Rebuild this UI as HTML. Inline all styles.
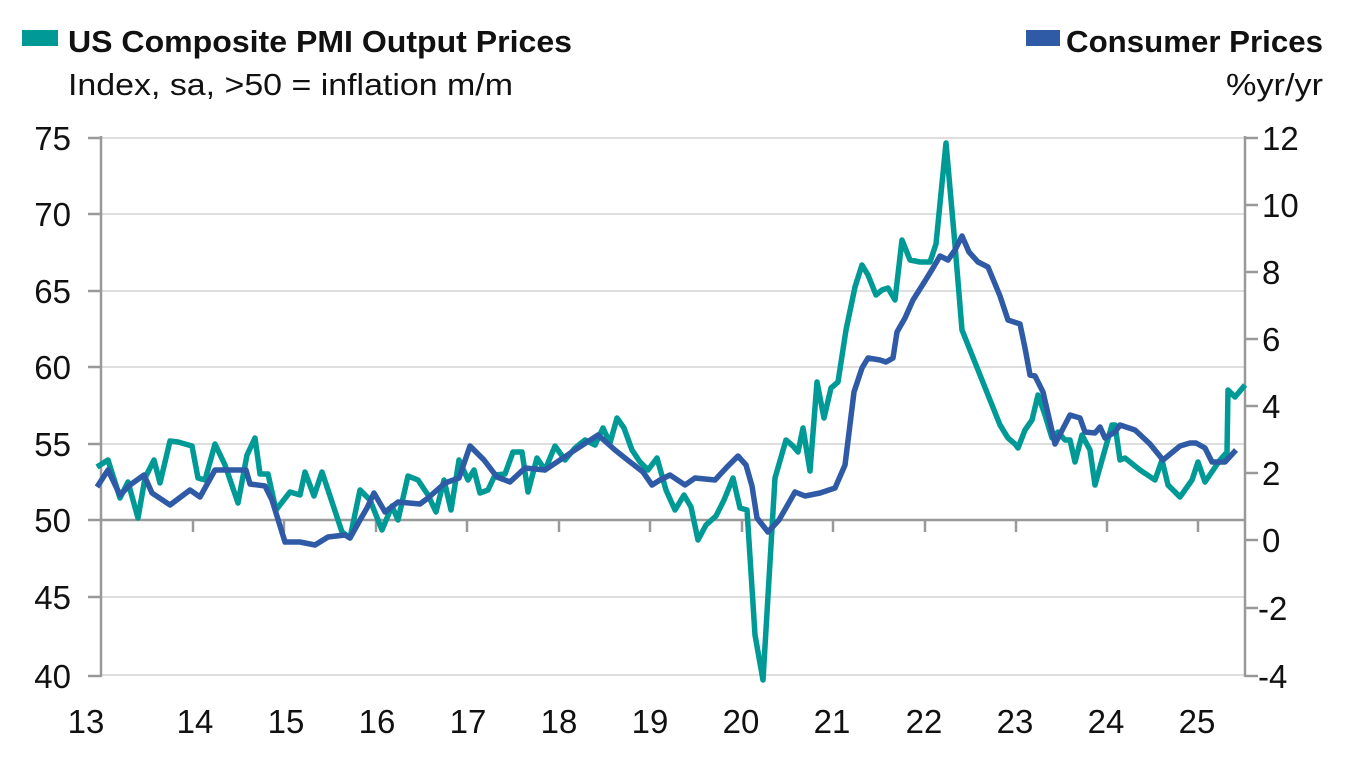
<!DOCTYPE html>
<html><head><meta charset="utf-8"><style>
html,body{margin:0;padding:0;background:#fff}
svg{display:block}
text{font-family:"Liberation Sans",sans-serif;fill:#111}
</style></head><body>
<svg width="1356" height="768" viewBox="0 0 1356 768">
<g stroke="#d4d4d4" stroke-width="1.5">
<line x1="101" y1="138" x2="1245" y2="138"/><line x1="101" y1="214" x2="1245" y2="214"/>
<line x1="101" y1="291" x2="1245" y2="291"/><line x1="101" y1="367" x2="1245" y2="367"/>
<line x1="101" y1="444" x2="1245" y2="444"/><line x1="101" y1="597" x2="1245" y2="597"/>
<line x1="101" y1="675" x2="1245" y2="675"/>
</g>
<g stroke="#999" stroke-width="2.5" fill="none">
<line x1="101" y1="136" x2="101" y2="677"/><line x1="88" y1="138" x2="101" y2="138"/><line x1="88" y1="214" x2="101" y2="214"/><line x1="88" y1="291" x2="101" y2="291"/><line x1="88" y1="367" x2="101" y2="367"/><line x1="88" y1="444" x2="101" y2="444"/><line x1="88" y1="520" x2="101" y2="520"/><line x1="88" y1="597" x2="101" y2="597"/><line x1="88" y1="676" x2="101" y2="676"/>
<line x1="1245" y1="136" x2="1245" y2="677"/>
<line x1="1245" y1="138" x2="1258" y2="138"/><line x1="1245" y1="205" x2="1258" y2="205"/><line x1="1245" y1="272" x2="1258" y2="272"/><line x1="1245" y1="339" x2="1258" y2="339"/><line x1="1245" y1="406" x2="1258" y2="406"/><line x1="1245" y1="473" x2="1258" y2="473"/><line x1="1245" y1="540" x2="1258" y2="540"/><line x1="1245" y1="608" x2="1258" y2="608"/><line x1="1245" y1="676" x2="1258" y2="676"/>
<line x1="101" y1="520" x2="1245" y2="520"/>
<line x1="193" y1="520" x2="193" y2="532"/><line x1="284" y1="520" x2="284" y2="532"/><line x1="376" y1="520" x2="376" y2="532"/><line x1="467" y1="520" x2="467" y2="532"/><line x1="559" y1="520" x2="559" y2="532"/><line x1="650" y1="520" x2="650" y2="532"/><line x1="742" y1="520" x2="742" y2="532"/><line x1="833" y1="520" x2="833" y2="532"/><line x1="925" y1="520" x2="925" y2="532"/><line x1="1016" y1="520" x2="1016" y2="532"/><line x1="1107" y1="520" x2="1107" y2="532"/><line x1="1198" y1="520" x2="1198" y2="532"/>
</g>
<polyline fill="none" stroke="#009a96" stroke-width="5.5" stroke-linejoin="round" points="97,467 108,460 120,498 128,482 138,518 145,478 154,460 160,483 170,441 178,442 192,446 198,478 205,480 215,444 225,465 238,503 247,455 255,438 260,474 268,474 276,510 290,492 300,495 305,472 314,496 322,472 333,505 342,532 350,538 360,490 370,500 382,530 392,506 398,520 408,476 418,480 428,495 436,512 444,480 451,510 459,460 468,480 474,470 480,493 488,490 495,475 505,474 513,452 522,452 528,492 537,458 545,470 555,446 565,460 575,448 585,440 595,445 603,428 610,443 617,418 624,428 632,450 640,462 648,470 657,458 666,490 675,510 684,495 691,507 698,540 706,525 716,516 724,500 733,478 740,508 747,510 755,635 763,680 775,478 786,440 793,446 798,452 803,428 810,471 817,382 824,418 831,388 838,382 846,330 855,287 862,265 868,275 876,295 882,290 888,288 895,300 902,240 910,260 920,262 930,262 936,244 946,143 955,245 962,330 970,350 980,375 990,400 1000,425 1008,438 1015,444 1018,448 1025,430 1032,420 1038,395 1045,415 1052,438 1058,432 1065,440 1070,440 1075,462 1082,435 1090,450 1095,485 1102,460 1112,425 1115,425 1120,460 1125,458 1140,470 1155,480 1162,460 1168,485 1180,497 1192,480 1198,462 1205,482 1220,460 1227,452 1228,390 1235,397 1245,385"/>
<polyline fill="none" stroke="#2e5aa6" stroke-width="5.5" stroke-linejoin="round" points="97,487 108,470 120,495 130,485 144,475 152,493 170,505 190,490 200,497 215,470 235,470 246,470 250,484 265,486 272,500 285,542 300,542 315,545 328,537 345,535 350,538 360,520 367,508 374,493 385,512 398,502 420,504 428,498 445,483 459,478 470,446 484,460 497,477 510,482 525,468 545,470 560,460 575,450 598,435 615,450 625,458 643,472 652,485 660,480 670,475 685,485 695,478 715,480 727,467 738,456 746,465 752,486 757,518 768,532 779,520 795,492 805,496 820,493 835,488 845,465 854,392 862,368 868,358 880,360 886,362 893,358 897,332 905,318 913,300 925,281 933,268 940,256 948,260 955,250 962,236 969,252 978,262 988,267 1000,296 1008,320 1020,324 1025,348 1030,375 1035,376 1043,392 1055,444 1070,415 1080,418 1085,432 1095,433 1100,427 1105,438 1115,432 1120,425 1135,430 1150,444 1163,460 1180,446 1190,443 1196,443 1205,448 1212,462 1225,462 1236,450"/>
<g font-size="33" text-anchor="end">
<text x="71" y="150">75</text><text x="71" y="226">70</text><text x="71" y="303">65</text><text x="71" y="379">60</text><text x="71" y="456">55</text><text x="71" y="532">50</text><text x="71" y="609">45</text><text x="71" y="688">40</text>
</g>
<g font-size="33">
<text x="1262" y="150">12</text><text x="1262" y="217">10</text><text x="1262" y="284">8</text><text x="1262" y="351">6</text><text x="1262" y="418">4</text><text x="1262" y="485">2</text><text x="1262" y="552">0</text><text x="1258" y="620">-2</text><text x="1258" y="688">-4</text>
</g>
<g font-size="33" text-anchor="middle">
<text x="86" y="733">13</text><text x="195" y="733">14</text><text x="286" y="733">15</text><text x="377" y="733">16</text><text x="468" y="733">17</text><text x="559" y="733">18</text><text x="650" y="733">19</text><text x="741" y="733">20</text><text x="832" y="733">21</text><text x="924" y="733">22</text><text x="1015" y="733">23</text><text x="1106" y="733">24</text><text x="1197" y="733">25</text>
</g>
<rect x="22" y="30" width="36" height="16" fill="#009a96"/>
<text x="68" y="52" font-size="31" font-weight="bold" textLength="504" lengthAdjust="spacingAndGlyphs">US Composite PMI Output Prices</text>
<text x="68" y="95" font-size="31" textLength="445" lengthAdjust="spacingAndGlyphs">Index, sa, &gt;50 = inflation m/m</text>
<rect x="1026" y="30" width="34" height="16" fill="#2e5aa6"/>
<text x="1066" y="52" font-size="31" font-weight="bold" textLength="257" lengthAdjust="spacingAndGlyphs">Consumer Prices</text>
<text x="1226" y="95" font-size="31" textLength="97" lengthAdjust="spacingAndGlyphs">%yr/yr</text>
</svg>
</body></html>
